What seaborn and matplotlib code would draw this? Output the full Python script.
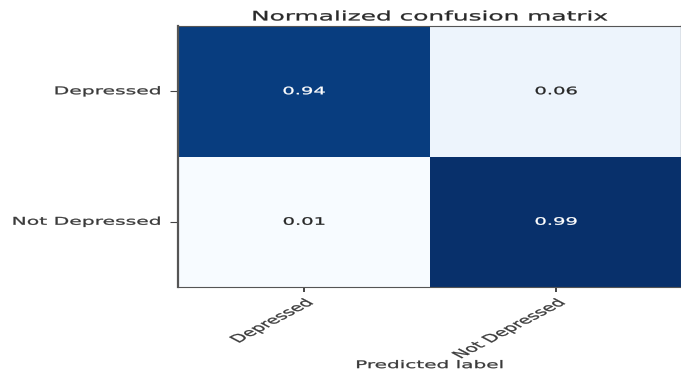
import matplotlib
matplotlib.use("Agg")
import matplotlib.pyplot as plt
import pandas as pd
import seaborn as sns
from matplotlib.patheffects import AbstractPathEffect
from matplotlib.transforms import Affine2D

# Normalized confusion matrix values (rows: true label, columns: predicted label)
classes = ["Depressed", "Not Depressed"]
row_depressed = [0.94, 0.06]
row_not_depressed = [0.01, 0.99]

cm = pd.DataFrame([row_depressed, row_not_depressed], index=classes, columns=classes)

# Horizontal widening applied to all text glyphs
SX = 1.9


class HStretch(AbstractPathEffect):
    """Widen a text path horizontally about a fixed display x position,
    with a thin outline in the fill colour to give the glyphs more weight."""

    def __init__(self, sx, where="center", anchor=None, stroke=0.2):
        super().__init__()
        self.sx = sx
        self.where = where
        self.anchor = anchor
        self.stroke = stroke

    def draw_path(self, renderer, gc, tpath, affine, rgbFace=None):
        if self.anchor is not None:
            x0 = self.anchor()
        else:
            ext = tpath.transformed(affine).get_extents()
            if self.where == "left":
                x0 = ext.x0
            elif self.where == "right":
                x0 = ext.x1
            else:
                x0 = 0.5 * (ext.x0 + ext.x1)
        widen = Affine2D().translate(-x0, 0).scale(self.sx, 1).translate(x0, 0)
        gc0 = renderer.new_gc()
        gc0.copy_properties(gc)
        if rgbFace is not None:
            gc0.set_foreground(rgbFace)
        gc0.set_linewidth(self.stroke)
        renderer.draw_path(gc0, tpath, affine + widen, rgbFace)
        gc0.restore()


fig = plt.figure(figsize=(6.81, 3.77), dpi=100)
ax = fig.add_axes([178 / 681, 1 - 287 / 377, 504 / 681, 261 / 377])

sns.heatmap(cm, cmap="Blues", annot=True, fmt=".2f", cbar=False, ax=ax,
            annot_kws={"fontsize": 7.4})

# Frame around the matrix
for side, sp in ax.spines.items():
    sp.set_visible(True)
    sp.set_color("#555555")
    sp.set_linewidth(1.6 if side in ("left", "right") else 0.8)

ax.tick_params(axis="y", length=5.8, width=0.8, pad=6.5, color="#444444",
               labelsize=7.7, labelcolor="#3a3a3a")
ax.tick_params(axis="x", length=3.5, width=1.4, pad=4.0, color="#444444",
               labelsize=7.7, labelcolor="#3a3a3a")

for t in ax.get_yticklabels():
    t.set_rotation(0)
    t.set_va("center")
    t.set_path_effects([HStretch(SX, "right")])

for i, t in enumerate(ax.get_xticklabels()):
    t.set_rotation(45)
    t.set_ha("right")
    t.set_rotation_mode("anchor")
    xpos = i + 0.5
    t.set_path_effects([HStretch(SX, anchor=lambda x=xpos: ax.transData.transform((x, 0))[0])])

for t in ax.texts:
    t.set_path_effects([HStretch(SX, "center")])

title = ax.set_title("Normalized confusion matrix", fontsize=9.4, pad=4, color="#2a2a2a")
title.set_path_effects([HStretch(SX, "center")])

xl = ax.set_xlabel("Predicted label", fontsize=7.6, color="#3a3a3a")
ax.xaxis.set_label_coords(0.5, -0.28)
xl.set_path_effects([HStretch(SX, "center")])
ax.set_ylabel("")

fig.savefig("out.png", dpi=100)
